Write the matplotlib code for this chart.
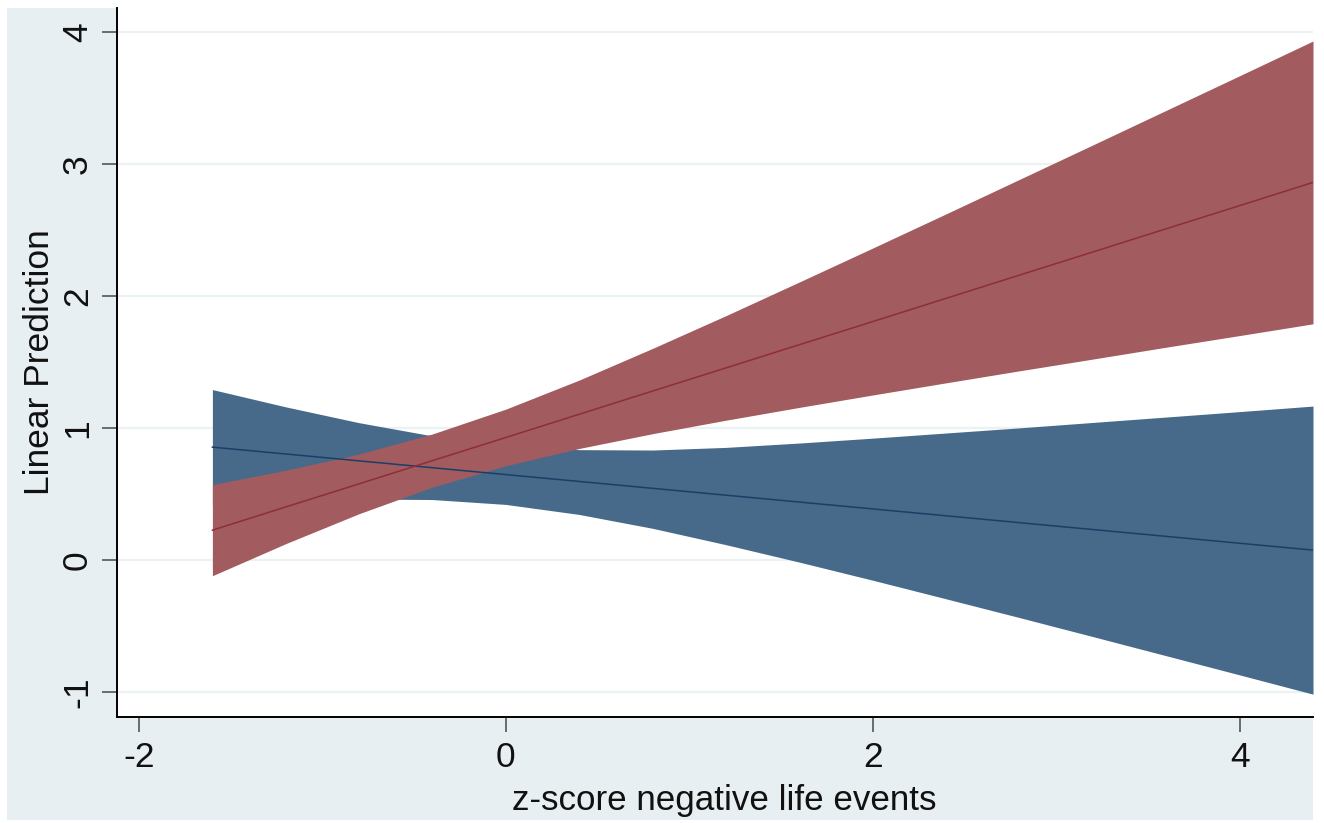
import numpy as np
import matplotlib.pyplot as plt

plt.rcParams['font.family'] = ['Liberation Sans', 'DejaVu Sans']

# values (margins plot, two groups)
x = [-1.6, -1.2, -0.8, -0.4, 0.0, 0.4, 0.8, 1.2, 1.6, 2.0, 2.4, 2.8, 3.2, 3.6, 4.0, 4.4]

blue_fit = [0.854, 0.802, 0.750, 0.698, 0.646, 0.594, 0.542, 0.490, 0.438, 0.386, 0.334, 0.282, 0.230, 0.178, 0.126, 0.074]
blue_hi = [1.290, 1.159, 1.039, 0.939, 0.872, 0.835, 0.832, 0.852, 0.885, 0.922, 0.961, 1.000, 1.041, 1.082, 1.123, 1.165]
blue_lo = [0.418, 0.445, 0.461, 0.457, 0.420, 0.344, 0.239, 0.115, -0.017, -0.154, -0.295, -0.437, -0.581, -0.726, -0.871, -1.017]

red_fit = [0.225, 0.401, 0.576, 0.752, 0.927, 1.103, 1.279, 1.454, 1.630, 1.805, 1.981, 2.157, 2.332, 2.508, 2.683, 2.859]
red_hi = [0.570, 0.679, 0.802, 0.954, 1.142, 1.362, 1.602, 1.850, 2.105, 2.362, 2.621, 2.882, 3.143, 3.405, 3.667, 3.930]
red_lo = [-0.120, 0.123, 0.350, 0.551, 0.713, 0.844, 0.956, 1.058, 1.155, 1.249, 1.341, 1.432, 1.521, 1.611, 1.699, 1.788]

xticks = [-2, 0, 2, 4]
yticks = [-1, 0, 1, 2, 3, 4]

W, H = 1324, 823
fig = plt.figure(figsize=(W / 100, H / 100), dpi=100)
fig.patch.set_facecolor('white')

# stata-ish graph region, as a background axes
bg = fig.add_axes([7 / W, 3 / H, (1313 - 7) / W, (815 - 3) / H], zorder=-1)
bg.set_facecolor('#e8eff2')
bg.set_xticks([])
bg.set_yticks([])
for s in bg.spines.values():
    s.set_visible(False)

ax = fig.add_axes([117 / W, 1 - 717 / H, (1313 - 117) / W, (717 - 8) / H])
ax.set_facecolor('white')

for yt in yticks:
    ax.axhline(yt, color='#eaf2f3', lw=1.6, zorder=0)

ax.fill_between(x, blue_lo, blue_hi, color='#476a8a', lw=0, zorder=1)
ax.fill_between(x, red_lo, red_hi, color='#a25b5f', lw=0, zorder=2)
ax.plot(x, blue_fit, color='#1a3f66', lw=1.1, zorder=3)
ax.plot(x, red_fit, color='#8e2f36', lw=1.1, zorder=4)

ax.set_xlim(-2.12, 4.4)
ax.set_ylim(-1.19, 4.18)
ax.set_xticks(xticks)
ax.set_yticks(yticks)
ax.set_xticklabels([str(v) for v in xticks])
ax.set_yticklabels([str(v) for v in yticks], rotation=90, va='center')

for s in ['top', 'right']:
    ax.spines[s].set_visible(False)
for s in ['left', 'bottom']:
    ax.spines[s].set_color('black')
    ax.spines[s].set_linewidth(1.4)

ax.tick_params(axis='both', direction='out', length=10.5, width=1.2,
               color='#555555', labelsize=25.5, labelcolor='#111111')
ax.tick_params(axis='x', pad=7)
ax.tick_params(axis='y', pad=6)

ax.set_xlabel('z-score negative life events', fontsize=25.2, color='#111111', labelpad=4)
ax.set_ylabel('Linear Prediction', fontsize=25.5, color='#111111', labelpad=4)
ax.xaxis.set_label_coords(0.508, -0.095)

fig.savefig('out.png', dpi=100)
